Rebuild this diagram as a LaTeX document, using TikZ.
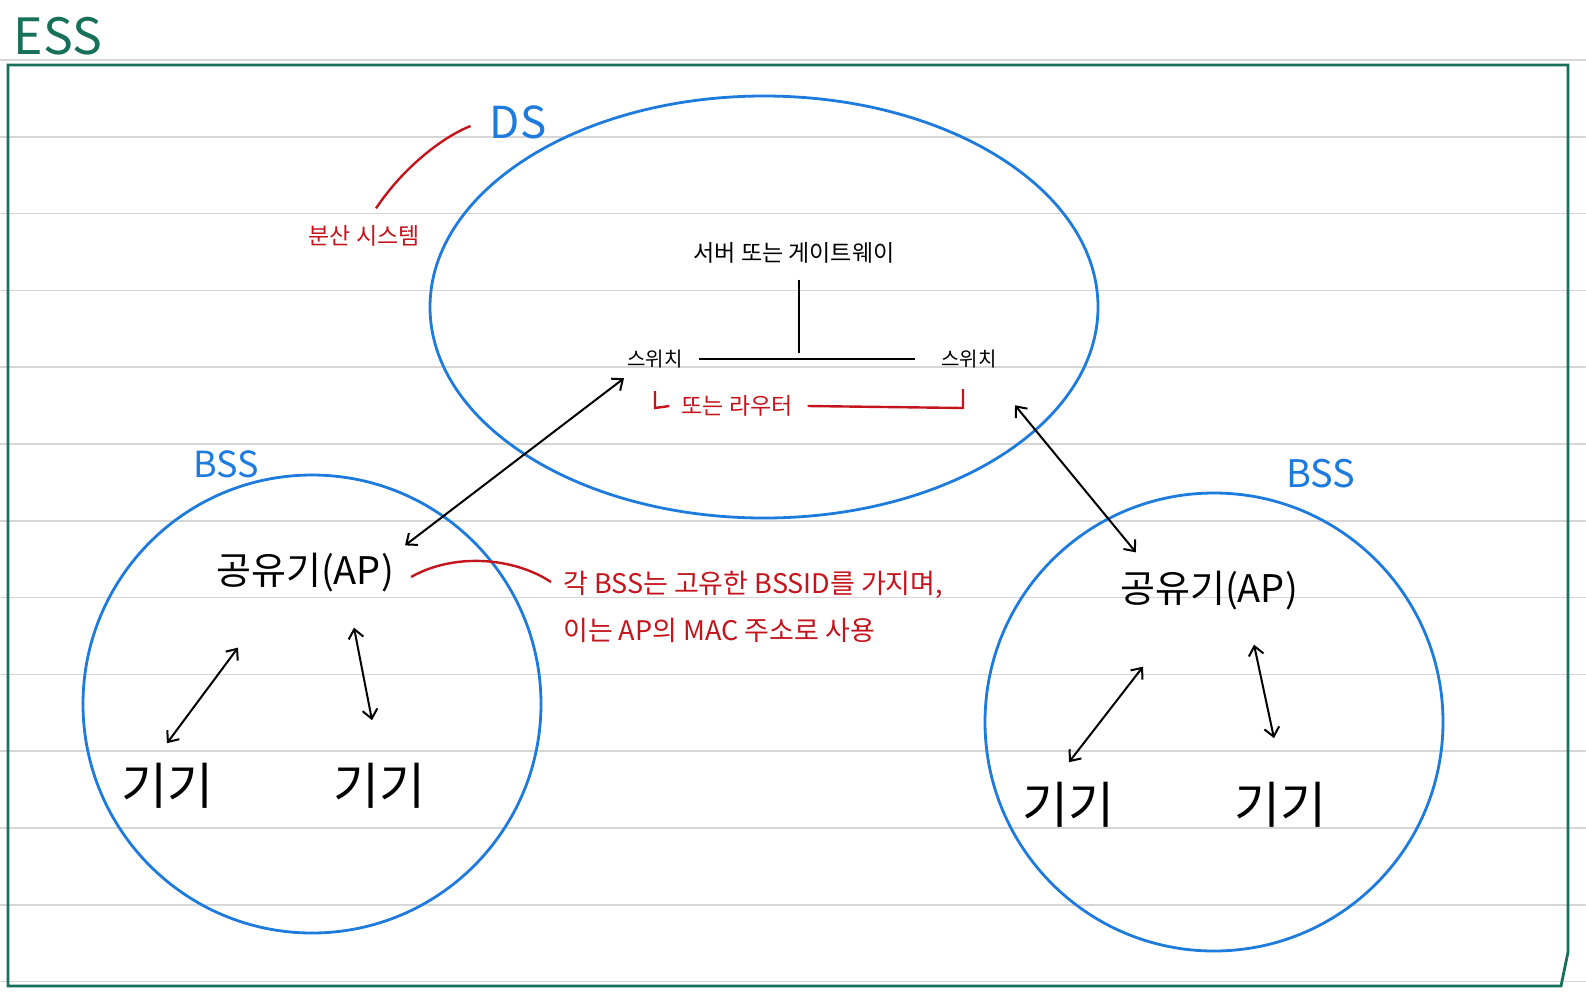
\documentclass[tikz,border=0pt]{standalone}
\usepackage{fontspec}
\setmainfont{Noto Sans CJK KR}
\usetikzlibrary{arrows.meta,calc}
\definecolor{essgreen}{HTML}{17705A}
\definecolor{dsblue}{HTML}{1E7BDE}
\definecolor{notered}{HTML}{C4141C}
\definecolor{ruled}{HTML}{D6D6D6}
\begin{document}
\begin{tikzpicture}[x=1pt,y=-1pt,
  txt/.style={inner sep=0pt, anchor=center},
  fs/.style={font=\fontsize{#1}{#1}\selectfont},
  bluering/.style={draw=dsblue, line width=2.8pt},
  dbl/.style={{Straight Barb[length=9pt,width=15pt]}-{Straight Barb[length=9pt,width=15pt]}, line width=2pt, black},
  redline/.style={notered, line width=2.4pt},
  wire/.style={black, line width=2.4pt}]
\useasboundingbox (0,0) rectangle (1586,994);
\fill[white] (0,0) rectangle (1586,994);
\foreach \k in {0,...,12} \draw[ruled, line width=1.6pt] (0,60+76.8*\k) -- (1586,60+76.8*\k);
% ESS box
\draw[essgreen, line width=2.8pt, line join=miter] (8,65) -- (1568,65) -- (1568,952) -- (1561,986) -- (8,986) -- cycle;
\node[txt, fs=50, text=essgreen] (ess) at (58,36) {ESS};
% DS ellipse
\draw[bluering] (764,307) ellipse [x radius=334, y radius=211];
\node[txt, fs=44, text=dsblue] (ds) at (518,122) {DS};
\node[txt, fs=23, text=notered] (bunsan) at (364,236) {분산 시스템};
\draw[redline] ($(bunsan.north)+(12,-17)$) .. controls (405,165) and (445,136) .. ($(ds.west)+(-19,4)$);
% inside DS
\node[txt, fs=23] (gw) at (794,253) {서버 또는 게이트웨이};
\node[txt, fs=20] (swl) at (655,359) {스위치};
\node[txt, fs=20] (swr) at (969,359) {스위치};
\coordinate (gwdrop) at ($(gw.south)+(5,16)$);
\coordinate (tee) at ($(gwdrop)+(0,73)$);
\draw[wire] (gwdrop) -- (tee);
\draw[wire] ($(swl.east)+(16,0)$ |- tee) -- ($(swr.west)+(-26,0)$ |- tee);
\node[txt, fs=23, text=notered] (router) at (737,406) {또는 라우터};
\draw[redline] (655,391) -- (655,408) -- ($(router.west)+(-12,0)$ |- 0,408);
\draw[redline] ($(router.east)+(15,0)$ |- 0,408) -- (963,408) -- (963,389);
% BSS circles
\draw[bluering] (312,704) circle [radius=229];
\draw[bluering] (1214,722) circle [radius=229];
\node[txt, fs=36, text=dsblue] (bss1) at (226,464) {BSS};
\node[txt, fs=38, text=dsblue] (bss2) at (1321,474) {BSS};
% APs
\node[txt, fs=38] (ap1) at (305,572) {공유기(AP)};
\node[txt, fs=38] (ap2) at (1209,590) {공유기(AP)};
% devices
\node[txt, fs=50] (d1) at (167,786) {기기};
\node[txt, fs=50] (d2) at (379,786) {기기};
\node[txt, fs=50] (d3) at (1068,805) {기기};
\node[txt, fs=50] (d4) at (1280,805) {기기};
% DS <-> AP arrows
\draw[dbl] ($(swl.south)+(-31,10)$) -- ($(ap1.north east)+(11,-7)$);
\draw[dbl] ($(swr.south)+(46,37)$) -- ($(ap2.north west)+(16,-18)$);
% AP <-> devices
\draw[dbl] ($(ap1.south)+(-67,56)$) -- ($(d1.north)+(0,-20)$);
\draw[dbl] ($(ap1.south)+(49,36)$) -- ($(d2.north)+(-7,-43)$);
\draw[dbl] ($(ap2.south)+(-66,57)$) -- ($(d3.north)+(1,-20)$);
\draw[dbl] ($(ap2.south)+(45,35)$) -- ($(d4.north)+(-6,-44)$);
% annotation
\node[txt, anchor=west, fs=27, text=notered] (note1) at (563,585) {각 BSS는 고유한 BSSID를 가지며,};
\node[txt, anchor=west, fs=27, text=notered] (note2) at (563,630) {이는 AP의 MAC 주소로 사용};
\draw[redline] ($(ap1.east)+(17,5)$) .. controls (455,552) and (515,558) .. ($(note1.west)+(-12,-3)$);
\end{tikzpicture}
\end{document}
